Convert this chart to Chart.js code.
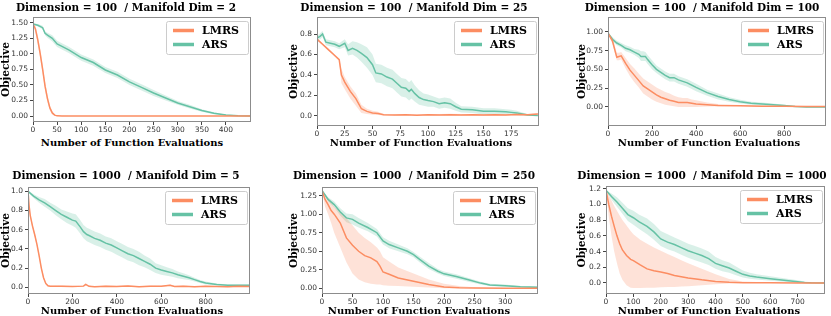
<!DOCTYPE html>
<html lang="en">
<head>
<meta charset="UTF-8">
<title>LMRS vs ARS</title>
<script src="https://cdn.jsdelivr.net/npm/chart.js"></script>
<style>
  body { margin: 0; width: 831px; height: 316px; background: #fff; position: relative; overflow: hidden; }
  canvas { position: absolute; }
  .lbl { position: absolute; transform: translate(-50%, -50%); font: bold 10.5px "DejaVu Serif"; white-space: pre; color: #000; }
  .xl { font-size: 10px; }
</style>
</head>
<body>
<canvas id="c1" width="255" height="131" style="left:0px;top:5px"></canvas>
<canvas id="c2" width="255" height="135" style="left:288px;top:5px"></canvas>
<canvas id="c3" width="254" height="135" style="left:576px;top:5px"></canvas>
<canvas id="c4" width="254" height="133" style="left:0px;top:175px"></canvas>
<canvas id="c5" width="254" height="133" style="left:288px;top:175px"></canvas>
<canvas id="c6" width="253" height="134" style="left:576px;top:174px"></canvas>

<div class="lbl" style="left:126px;top:7px">Dimension = 100  / Manifold Dim = 2</div>
<div class="lbl" style="left:414px;top:7px">Dimension = 100  / Manifold Dim = 25</div>
<div class="lbl" style="left:702px;top:7px">Dimension = 100  / Manifold Dim = 100</div>
<div class="lbl" style="left:126px;top:175px">Dimension = 1000  / Manifold Dim = 5</div>
<div class="lbl" style="left:414px;top:175px">Dimension = 1000  / Manifold Dim = 250</div>
<div class="lbl" style="left:702px;top:175px">Dimension = 1000  / Manifold Dim = 1000</div>
<div class="lbl xl" style="left:132px;top:142px">Number of Function Evaluations</div>
<div class="lbl xl" style="left:421px;top:142px">Number of Function Evaluations</div>
<div class="lbl xl" style="left:709px;top:142px">Number of Function Evaluations</div>
<div class="lbl xl" style="left:132px;top:310px">Number of Function Evaluations</div>
<div class="lbl xl" style="left:419px;top:310px">Number of Function Evaluations</div>
<div class="lbl xl" style="left:709px;top:310px">Number of Function Evaluations</div>

<script>
// ---- panel 1: dim 100 / manifold 2
const p1XTicks = [0, 50, 100, 150, 200, 250, 300, 350, 400];
const p1YTicks = [0, 0.25, 0.5, 0.75, 1.0, 1.25, 1.5];
const p1LmrsX  = [0, 5, 10, 15, 20, 25, 30, 35, 40, 45, 50, 60, 75, 100, 150, 200, 250, 300, 350, 400, 450];
const p1Lmrs   = [1.48, 1.40, 1.22, 1.00, 0.75, 0.48, 0.28, 0.13, 0.05, 0.015, 0.003, 0, 0, 0, 0, 0, 0, 0, 0, 0, 0];
const p1LmrsLo = [1.46, 1.35, 1.15, 0.93, 0.68, 0.41, 0.22, 0.09, 0.025, 0.005, 0, 0, 0, 0, 0, 0, 0, 0, 0, 0, 0];
const p1LmrsHi = [1.50, 1.45, 1.29, 1.07, 0.82, 0.55, 0.34, 0.17, 0.075, 0.025, 0.006, 0.003, 0.002, 0.002, 0.002, 0.002, 0.002, 0.002, 0.002, 0.002, 0.002];
const p1ArsX   = [0, 10, 20, 25, 30, 40, 50, 60, 75, 100, 125, 150, 175, 200, 225, 250, 275, 300, 325, 350, 375, 400, 425, 450];
const p1Ars    = [1.48, 1.46, 1.42, 1.33, 1.30, 1.25, 1.16, 1.12, 1.06, 0.94, 0.86, 0.74, 0.66, 0.55, 0.46, 0.37, 0.29, 0.21, 0.15, 0.09, 0.045, 0.015, 0.005, 0.0];
const p1ArsLo  = [1.47, 1.44, 1.39, 1.30, 1.26, 1.20, 1.11, 1.07, 1.01, 0.89, 0.81, 0.69, 0.61, 0.50, 0.41, 0.32, 0.25, 0.18, 0.12, 0.07, 0.03, 0.008, 0.0, 0.0];
const p1ArsHi  = [1.49, 1.48, 1.45, 1.36, 1.34, 1.30, 1.21, 1.17, 1.11, 0.99, 0.91, 0.79, 0.71, 0.60, 0.51, 0.42, 0.33, 0.24, 0.18, 0.11, 0.06, 0.022, 0.01, 0.003];

// ---- panel 2: dim 100 / manifold 25
const p2XTicks = [0, 25, 50, 75, 100, 125, 150, 175];
const p2YTicks = [0, 0.2, 0.4, 0.6, 0.8];
const p2LmrsX  = [0, 5, 10, 15, 20, 22, 25, 30, 35, 40, 45, 50, 55, 60, 70, 80, 90, 100, 110, 120, 130, 140, 150, 160, 170, 180, 190, 199];
const p2Lmrs   = [0.75, 0.70, 0.65, 0.60, 0.55, 0.40, 0.33, 0.24, 0.17, 0.07, 0.045, 0.03, 0.025, 0.012, 0.01, 0.012, 0.008, 0.012, 0.01, 0.013, 0.01, 0.012, 0.009, 0.012, 0.01, 0.014, 0.012, 0.018];
const p2LmrsLo = [0.74, 0.69, 0.64, 0.59, 0.54, 0.32, 0.26, 0.17, 0.10, 0.03, 0.02, 0.012, 0.01, 0.004, 0.003, 0.004, 0.0, 0.004, 0.002, 0.005, 0.002, 0.004, 0.0, 0.004, 0.002, 0.006, 0.004, 0.008];
const p2LmrsHi = [0.76, 0.71, 0.66, 0.61, 0.56, 0.46, 0.38, 0.29, 0.22, 0.11, 0.07, 0.05, 0.04, 0.02, 0.017, 0.02, 0.016, 0.02, 0.018, 0.021, 0.018, 0.02, 0.017, 0.02, 0.018, 0.022, 0.02, 0.028];
const p2ArsX   = [0, 3, 5, 8, 12, 16, 20, 25, 28, 32, 36, 40, 45, 50, 53, 58, 63, 68, 72, 76, 80, 83, 85, 88, 92, 96, 100, 105, 110, 115, 120, 125, 130, 140, 150, 160, 170, 175, 180, 185, 190, 199];
const p2Ars    = [0.76, 0.78, 0.80, 0.72, 0.71, 0.70, 0.68, 0.71, 0.64, 0.66, 0.64, 0.61, 0.57, 0.50, 0.42, 0.41, 0.38, 0.36, 0.32, 0.28, 0.27, 0.24, 0.26, 0.22, 0.18, 0.16, 0.15, 0.14, 0.12, 0.13, 0.12, 0.09, 0.065, 0.06, 0.045, 0.045, 0.04, 0.035, 0.03, 0.02, 0.01, 0.005];
const p2ArsLo  = [0.74, 0.75, 0.77, 0.69, 0.68, 0.67, 0.65, 0.67, 0.59, 0.60, 0.57, 0.53, 0.47, 0.40, 0.33, 0.32, 0.29, 0.27, 0.23, 0.19, 0.18, 0.15, 0.17, 0.14, 0.11, 0.10, 0.09, 0.09, 0.07, 0.08, 0.07, 0.05, 0.035, 0.03, 0.015, 0.015, 0.015, 0.01, 0.01, 0.005, 0.0, 0.0];
const p2ArsHi  = [0.78, 0.81, 0.83, 0.75, 0.74, 0.73, 0.71, 0.75, 0.70, 0.73, 0.72, 0.70, 0.67, 0.60, 0.51, 0.50, 0.47, 0.45, 0.41, 0.37, 0.36, 0.33, 0.35, 0.30, 0.25, 0.22, 0.21, 0.19, 0.17, 0.18, 0.17, 0.13, 0.095, 0.09, 0.075, 0.075, 0.065, 0.06, 0.05, 0.035, 0.02, 0.01];

// ---- panel 3: dim 100 / manifold 100
const p3XTicks = [0, 200, 400, 600, 800];
const p3YTicks = [0, 0.25, 0.5, 0.75, 1.0];
const p3LmrsX  = [0, 20, 40, 50, 60, 80, 100, 120, 140, 160, 180, 200, 220, 240, 260, 280, 300, 320, 340, 360, 380, 400, 450, 500, 600, 700, 800, 900, 990];
const p3Lmrs   = [0.98, 0.88, 0.66, 0.67, 0.68, 0.58, 0.49, 0.42, 0.35, 0.28, 0.24, 0.20, 0.16, 0.13, 0.11, 0.09, 0.075, 0.06, 0.06, 0.06, 0.05, 0.04, 0.03, 0.02, 0.015, 0.01, 0.008, 0.005, 0.005];
const p3LmrsLo = [0.97, 0.84, 0.62, 0.62, 0.63, 0.51, 0.41, 0.33, 0.26, 0.18, 0.14, 0.10, 0.07, 0.05, 0.03, 0.02, 0.01, 0.0, 0.0, 0.0, 0.0, 0.0, 0.005, 0.01, 0.008, 0.005, 0.004, 0.002, 0.002];
const p3LmrsHi = [0.99, 0.92, 0.72, 0.72, 0.73, 0.65, 0.57, 0.51, 0.44, 0.38, 0.34, 0.30, 0.26, 0.23, 0.20, 0.18, 0.15, 0.13, 0.12, 0.12, 0.10, 0.09, 0.06, 0.04, 0.025, 0.015, 0.012, 0.008, 0.008];
const p3ArsX   = [0, 20, 40, 60, 80, 100, 120, 140, 150, 160, 170, 180, 200, 220, 240, 260, 280, 300, 320, 340, 360, 380, 400, 450, 500, 550, 600, 650, 700, 750, 800, 850, 900, 990];
const p3Ars    = [0.98, 0.90, 0.85, 0.82, 0.78, 0.76, 0.73, 0.70, 0.67, 0.67, 0.67, 0.63, 0.56, 0.50, 0.46, 0.42, 0.39, 0.39, 0.36, 0.34, 0.32, 0.29, 0.26, 0.19, 0.14, 0.10, 0.07, 0.05, 0.04, 0.03, 0.02, 0.005, 0.0, 0.0];
const p3ArsLo  = [0.97, 0.87, 0.82, 0.79, 0.74, 0.72, 0.69, 0.65, 0.61, 0.61, 0.61, 0.57, 0.50, 0.45, 0.41, 0.37, 0.34, 0.34, 0.31, 0.29, 0.27, 0.24, 0.21, 0.15, 0.10, 0.07, 0.045, 0.03, 0.02, 0.015, 0.01, 0.0, 0.0, 0.0];
const p3ArsHi  = [0.99, 0.93, 0.88, 0.85, 0.82, 0.80, 0.77, 0.76, 0.74, 0.74, 0.73, 0.69, 0.62, 0.55, 0.51, 0.47, 0.44, 0.44, 0.41, 0.39, 0.37, 0.34, 0.31, 0.23, 0.18, 0.13, 0.095, 0.07, 0.06, 0.045, 0.03, 0.012, 0.005, 0.003];

// ---- panel 4: dim 1000 / manifold 5
const p4XTicks = [0, 200, 400, 600, 800];
const p4YTicks = [0, 0.2, 0.4, 0.6, 0.8, 1.0];
const p4LmrsX  = [0, 5, 10, 20, 30, 40, 50, 60, 70, 80, 90, 100, 150, 200, 250, 260, 275, 300, 350, 400, 450, 500, 550, 600, 640, 660, 700, 750, 800, 850, 900, 950, 1000];
const p4Lmrs   = [1.0, 0.85, 0.75, 0.64, 0.55, 0.45, 0.33, 0.20, 0.10, 0.04, 0.015, 0.01, 0.012, 0.008, 0.012, 0.03, 0.01, 0.006, 0.012, 0.008, 0.014, 0.006, 0.012, 0.01, 0.022, 0.008, 0.012, 0.006, 0.01, 0.008, 0.005, 0.01, 0.008];
const p4LmrsLo = [0.99, 0.83, 0.73, 0.62, 0.53, 0.43, 0.31, 0.18, 0.085, 0.03, 0.008, 0.004, 0.005, 0.002, 0.005, 0.02, 0.004, 0.0, 0.005, 0.002, 0.007, 0.0, 0.005, 0.004, 0.014, 0.002, 0.005, 0.0, 0.004, 0.002, 0.0, 0.004, 0.002];
const p4LmrsHi = [1.01, 0.87, 0.77, 0.66, 0.57, 0.47, 0.35, 0.22, 0.115, 0.05, 0.022, 0.016, 0.019, 0.014, 0.019, 0.04, 0.016, 0.012, 0.019, 0.014, 0.021, 0.012, 0.019, 0.016, 0.03, 0.014, 0.019, 0.012, 0.016, 0.014, 0.01, 0.016, 0.014];
const p4ArsX   = [0, 25, 50, 75, 100, 125, 150, 175, 200, 215, 235, 250, 265, 275, 300, 325, 350, 375, 400, 425, 450, 475, 500, 525, 550, 575, 600, 625, 650, 675, 700, 725, 750, 775, 800, 850, 900, 950, 1000];
const p4Ars    = [1.0, 0.95, 0.91, 0.88, 0.84, 0.80, 0.76, 0.73, 0.70, 0.69, 0.63, 0.58, 0.55, 0.54, 0.51, 0.49, 0.46, 0.44, 0.41, 0.38, 0.35, 0.33, 0.30, 0.27, 0.24, 0.20, 0.18, 0.165, 0.15, 0.13, 0.115, 0.10, 0.08, 0.06, 0.045, 0.03, 0.02, 0.02, 0.02];
const p4ArsLo  = [0.99, 0.93, 0.88, 0.84, 0.80, 0.75, 0.71, 0.67, 0.64, 0.62, 0.56, 0.51, 0.48, 0.47, 0.44, 0.42, 0.39, 0.37, 0.34, 0.31, 0.28, 0.26, 0.23, 0.21, 0.18, 0.15, 0.13, 0.12, 0.11, 0.095, 0.085, 0.075, 0.06, 0.045, 0.03, 0.02, 0.012, 0.012, 0.012];
const p4ArsHi  = [1.01, 0.97, 0.94, 0.92, 0.88, 0.85, 0.81, 0.79, 0.77, 0.76, 0.70, 0.65, 0.62, 0.61, 0.58, 0.56, 0.53, 0.51, 0.48, 0.45, 0.42, 0.40, 0.37, 0.33, 0.30, 0.25, 0.23, 0.21, 0.19, 0.165, 0.145, 0.125, 0.10, 0.075, 0.06, 0.04, 0.03, 0.028, 0.028];

// ---- panel 5: dim 1000 / manifold 250
const p5XTicks = [0, 50, 100, 150, 200, 250, 300];
const p5YTicks = [0, 0.25, 0.5, 0.75, 1.0, 1.25];
const p5LmrsX  = [0, 5, 10, 15, 20, 30, 40, 50, 60, 70, 80, 90, 95, 100, 110, 125, 150, 175, 200, 225, 250, 300, 354];
const p5Lmrs   = [1.32, 1.20, 1.13, 1.05, 1.00, 0.88, 0.68, 0.58, 0.50, 0.44, 0.41, 0.36, 0.30, 0.22, 0.19, 0.14, 0.095, 0.05, 0.018, 0.008, 0.005, 0.002, 0.0];
const p5LmrsLo = [1.32, 1.10, 1.00, 0.88, 0.75, 0.55, 0.35, 0.20, 0.12, 0.08, 0.06, 0.05, 0.05, 0.04, 0.035, 0.03, 0.02, 0.01, 0.0, 0.0, 0.0, 0.0, 0.0];
const p5LmrsHi = [1.32, 1.27, 1.22, 1.16, 1.10, 1.02, 0.95, 0.85, 0.75, 0.68, 0.62, 0.55, 0.50, 0.42, 0.36, 0.28, 0.20, 0.12, 0.06, 0.03, 0.015, 0.006, 0.002];
const p5ArsX   = [0, 10, 20, 30, 40, 50, 60, 75, 90, 100, 110, 125, 140, 150, 160, 175, 190, 200, 220, 240, 260, 275, 300, 325, 354];
const p5Ars    = [1.32, 1.20, 1.13, 1.03, 0.95, 0.93, 0.88, 0.82, 0.75, 0.64, 0.59, 0.545, 0.50, 0.455, 0.39, 0.30, 0.23, 0.195, 0.16, 0.115, 0.07, 0.045, 0.035, 0.02, 0.015];
const p5ArsLo  = [1.32, 1.17, 1.09, 0.98, 0.89, 0.86, 0.82, 0.77, 0.70, 0.59, 0.54, 0.50, 0.46, 0.42, 0.35, 0.26, 0.20, 0.165, 0.13, 0.09, 0.05, 0.03, 0.02, 0.01, 0.005];
const p5ArsHi  = [1.32, 1.23, 1.17, 1.08, 1.01, 1.00, 0.95, 0.88, 0.80, 0.69, 0.64, 0.59, 0.54, 0.49, 0.43, 0.34, 0.26, 0.225, 0.19, 0.14, 0.09, 0.06, 0.05, 0.03, 0.025];

// ---- panel 6: dim 1000 / manifold 1000
const p6XTicks = [0, 100, 200, 300, 400, 500, 600, 700];
const p6YTicks = [0, 0.2, 0.4, 0.6, 0.8, 1.0, 1.2];
const p6LmrsX  = [0, 10, 20, 30, 40, 50, 60, 75, 90, 100, 125, 150, 175, 200, 225, 250, 275, 300, 350, 400, 450, 500, 600, 700, 800];
const p6Lmrs   = [1.18, 1.0, 0.85, 0.72, 0.6, 0.5, 0.42, 0.35, 0.30, 0.285, 0.23, 0.18, 0.155, 0.14, 0.12, 0.095, 0.08, 0.065, 0.04, 0.02, 0.008, 0.004, 0.002, 0.001, 0.0];
const p6LmrsLo = [1.18, 0.85, 0.6, 0.4, 0.25, 0.12, 0.04, -0.03, -0.06, -0.065, -0.065, -0.06, -0.06, -0.055, -0.05, -0.05, -0.045, -0.04, -0.03, -0.015, -0.005, 0.0, 0.0, 0.0, 0.0];
const p6LmrsHi = [1.18, 1.12, 1.05, 0.98, 0.92, 0.86, 0.80, 0.73, 0.66, 0.62, 0.55, 0.50, 0.45, 0.41, 0.37, 0.33, 0.29, 0.25, 0.18, 0.11, 0.05, 0.02, 0.005, 0.002, 0.001];
const p6ArsX   = [0, 20, 40, 60, 80, 100, 120, 150, 175, 200, 225, 250, 275, 300, 325, 350, 375, 400, 425, 450, 475, 500, 525, 550, 600, 650, 700, 725, 750, 800];
const p6Ars    = [1.18, 1.1, 1.03, 0.95, 0.87, 0.83, 0.78, 0.72, 0.65, 0.56, 0.52, 0.49, 0.45, 0.41, 0.38, 0.35, 0.31, 0.25, 0.22, 0.19, 0.15, 0.11, 0.09, 0.075, 0.055, 0.035, 0.015, 0.005, 0.002, 0.0];
const p6ArsLo  = [1.18, 1.06, 0.97, 0.88, 0.79, 0.74, 0.69, 0.62, 0.55, 0.47, 0.43, 0.40, 0.36, 0.32, 0.29, 0.26, 0.23, 0.18, 0.15, 0.13, 0.10, 0.07, 0.055, 0.045, 0.03, 0.015, 0.0, 0.0, 0.0, 0.0];
const p6ArsHi  = [1.18, 1.14, 1.09, 1.02, 0.95, 0.92, 0.87, 0.82, 0.75, 0.66, 0.62, 0.58, 0.54, 0.50, 0.47, 0.44, 0.40, 0.33, 0.29, 0.26, 0.21, 0.16, 0.13, 0.11, 0.085, 0.06, 0.035, 0.02, 0.01, 0.005];

const ORANGE = '#fc8d62', ORANGE_BAND = 'rgba(252,141,98,0.25)';
const GREEN = '#66c2a5', GREEN_BAND = 'rgba(102,194,165,0.25)';

const panels = [
  { id: 'c1', yw: 33, xMax: 452, yMin: -0.096, yMax: 1.592, dec: 2, xTicks: p1XTicks, yTicks: p1YTicks,
    lmrs: [p1LmrsX, p1Lmrs, p1LmrsLo, p1LmrsHi], ars: [p1ArsX, p1Ars, p1ArsLo, p1ArsHi] },
  { id: 'c2', yw: 29, xMax: 200, yMin: -0.098, yMax: 0.966, dec: 1, xTicks: p2XTicks, yTicks: p2YTicks,
    lmrs: [p2LmrsX, p2Lmrs, p2LmrsLo, p2LmrsHi], ars: [p2ArsX, p2Ars, p2ArsLo, p2ArsHi] },
  { id: 'c3', yw: 32, xMax: 990, yMin: -0.253, yMax: 1.196, dec: 2, xTicks: p3XTicks, yTicks: p3YTicks,
    lmrs: [p3LmrsX, p3Lmrs, p3LmrsLo, p3LmrsHi], ars: [p3ArsX, p3Ars, p3ArsLo, p3ArsHi] },
  { id: 'c4', yw: 28, xMax: 1000, yMin: -0.07, yMax: 1.045, dec: 1, xTicks: p4XTicks, yTicks: p4YTicks,
    lmrs: [p4LmrsX, p4Lmrs, p4LmrsLo, p4LmrsHi], ars: [p4ArsX, p4Ars, p4ArsLo, p4ArsHi] },
  { id: 'c5', yw: 34, xMax: 354, yMin: -0.077, yMax: 1.367, dec: 2, xTicks: p5XTicks, yTicks: p5YTicks,
    lmrs: [p5LmrsX, p5Lmrs, p5LmrsLo, p5LmrsHi], ars: [p5ArsX, p5Ars, p5ArsLo, p5ArsHi] },
  { id: 'c6', yw: 30, xMax: 800, yMin: -0.14, yMax: 1.234, dec: 1, xTicks: p6XTicks, yTicks: p6YTicks,
    lmrs: [p6LmrsX, p6Lmrs, p6LmrsLo, p6LmrsHi], ars: [p6ArsX, p6Ars, p6ArsLo, p6ArsHi] }
];

function pts(xs, ys) {
  return xs.map((x, i) => ({ x: x, y: ys[i] }));
}

// grey box round the plot area, like the matplotlib spines
const framePlugin = {
  id: 'frame',
  afterDatasetsDraw(chart) {
    const a = chart.chartArea, ctx = chart.ctx;
    ctx.save();
    ctx.strokeStyle = '#8c8c8c';
    ctx.lineWidth = 1;
    ctx.strokeRect(a.left + 0.5, a.top + 0.5, a.right - a.left - 1, a.bottom - a.top - 1);
    ctx.restore();
  }
};

// legend in a rounded box at the upper right of the plot
const boxLegend = {
  id: 'boxLegend',
  afterDraw(chart) {
    const a = chart.chartArea, ctx = chart.ctx;
    const items = chart.data.datasets.filter(d => d.label);
    ctx.save();
    ctx.font = 'bold 11px "DejaVu Serif"';
    const tw = Math.max(...items.map(d => ctx.measureText(d.label).width));
    const w = 36 + tw + 9, h = 33;
    const x = Math.round(a.right - 3 - w), y = Math.round(a.top + 4);
    ctx.beginPath();
    ctx.roundRect(x + 0.5, y + 0.5, w, h, 2);
    ctx.fillStyle = 'rgba(255,255,255,0.85)';
    ctx.fill();
    ctx.strokeStyle = '#cccccc';
    ctx.lineWidth = 1;
    ctx.stroke();
    items.forEach((d, i) => {
      const ly = y + 9.5 + i * 14;
      ctx.strokeStyle = d.borderColor;
      ctx.lineWidth = 3.5;
      ctx.beginPath();
      ctx.moveTo(x + 7, ly);
      ctx.lineTo(x + 28, ly);
      ctx.stroke();
      ctx.fillStyle = '#000';
      ctx.textBaseline = 'middle';
      ctx.fillText(d.label, x + 36, ly + 0.5);
    });
    ctx.restore();
  }
};

const tickFont = { family: 'DejaVu Sans', size: 7.5 };

function makeChart(p) {
  const band = (xs, ys, color, fill) => ({
    data: pts(xs, ys), borderColor: 'rgba(0,0,0,0)', borderWidth: 1, pointRadius: 0,
    backgroundColor: color, fill: fill, tension: 0
  });
  new Chart(document.getElementById(p.id), {
    type: 'line',
    data: {
      datasets: [
        { label: 'LMRS', data: pts(p.lmrs[0], p.lmrs[1]), borderColor: ORANGE, borderWidth: 1.5, pointRadius: 0, fill: false, tension: 0 },
        { label: 'ARS', data: pts(p.ars[0], p.ars[1]), borderColor: GREEN, borderWidth: 1.5, pointRadius: 0, fill: false, tension: 0 },
        band(p.lmrs[0], p.lmrs[3], ORANGE_BAND, '+1'),
        band(p.lmrs[0], p.lmrs[2], ORANGE_BAND, false),
        band(p.ars[0], p.ars[3], GREEN_BAND, '+1'),
        band(p.ars[0], p.ars[2], GREEN_BAND, false)
      ]
    },
    options: {
      responsive: false,
      animation: false,
      devicePixelRatio: 1,
      layout: { padding: { top: 12, right: 4, left: 0, bottom: 0 } },
      plugins: { legend: { display: false }, tooltip: { enabled: false }, title: { display: false } },
      scales: {
        x: {
          type: 'linear', min: 0, max: p.xMax,
          afterBuildTicks: s => { s.ticks = p.xTicks.map(v => ({ value: v })); },
          afterFit: s => { s.height = 14; },
          grid: { drawOnChartArea: false, drawTicks: true, tickLength: 3, color: '#444' },
          border: { display: false },
          ticks: { padding: 1, font: tickFont, color: '#333', maxRotation: 0, autoSkip: false, callback: v => String(v) }
        },
        y: {
          type: 'linear', min: p.yMin, max: p.yMax,
          afterBuildTicks: s => { s.ticks = p.yTicks.map(v => ({ value: v })); },
          afterFit: s => { s.width = p.yw; },
          grid: { drawOnChartArea: false, drawTicks: true, tickLength: 3, color: '#444' },
          border: { display: false },
          ticks: { padding: 2, font: tickFont, color: '#333', autoSkip: false, callback: v => v.toFixed(p.dec) },
          title: { display: true, text: 'Objective', color: '#000', padding: 0,
                   font: { family: 'DejaVu Serif', weight: 'bold', size: 10.5, lineHeight: 1.2 } }
        }
      }
    },
    plugins: [framePlugin, boxLegend]
  });
}

panels.forEach(makeChart);
</script>
</body>
</html>
